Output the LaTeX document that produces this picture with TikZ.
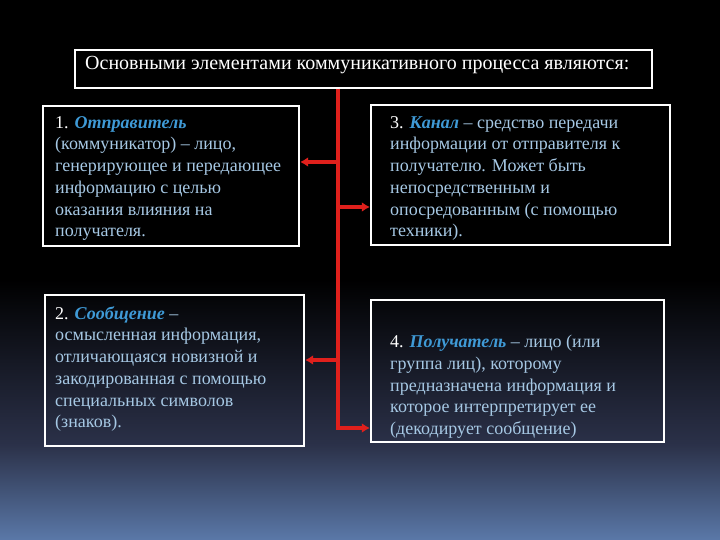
\documentclass[tikz,border=0pt]{standalone}
\usepackage{fontspec}
\setmainfont{Liberation Serif}
\usetikzlibrary{arrows.meta}
\definecolor{bodytxt}{HTML}{A6C8E4}
\definecolor{termtxt}{HTML}{3F9AD6}
\definecolor{arrred}{HTML}{E0201C}
\definecolor{bgA}{HTML}{000000}
\definecolor{bgB}{HTML}{2B3149}
\definecolor{bgC}{HTML}{5A78A8}
\tikzset{
  box/.style={draw=white, line width=2.4pt, fill=none, inner sep=0pt},
  titlebox/.style={draw=white, line width=1.1pt, inner sep=0pt},
  bodytext/.style={anchor=north west, inner sep=0pt, align=left, text=bodytxt,
    font=\fontsize{18}{21.75}\selectfont},
  arr/.style={draw=arrred, line width=3.2pt, -{Latex[length=8pt,width=10pt]}},
  trunk/.style={draw=arrred, line width=3.2pt}
}
\newcommand{\term}[1]{\textcolor{termtxt}{\textbf{\textit{#1}}}}
\newcommand{\num}[1]{\textcolor{white}{#1}}
\begin{document}
\begin{tikzpicture}[x=1pt,y=-1pt]
\useasboundingbox (0,0) rectangle (720,540);
\fill[black] (0,0) rectangle (720,280);
\shade[top color=bgA, bottom color=bgB] (0,279.5) rectangle (720,445);
\shade[top color=bgB, bottom color=bgC] (0,444.5) rectangle (720,540);

% title
\node[titlebox, minimum width=577pt, minimum height=38pt] (title) at (363.5,69) {};
\node[anchor=west, inner sep=0pt, text=white, font=\fontsize{20}{24}\selectfont] (titletxt) at (85,65.5)
  {Основными элементами коммуникативного процесса являются:};

% boxes
\node[box, minimum width=256pt, minimum height=140pt] (b1) at (171,176) {};
\node[box, minimum width=299pt, minimum height=140pt] (b3) at (520.5,175) {};
\node[box, minimum width=259pt, minimum height=151pt] (b2) at (174.5,370.5) {};
\node[box, minimum width=293pt, minimum height=142pt] (b4) at (517.5,371) {};

% texts
\node[bodytext] (t1) at (55,116) {\num{1.} \term{Отправитель}\\(коммуникатор) – лицо,\\генерирующее и передающее\\информацию с целью\\оказания влияния на\\получателя.};
\node[bodytext] (t3) at (390,116) {\num{3.} \term{Канал} – средство передачи\\информации от отправителя к\\получателю. Может быть\\непосредственным и\\опосредованным (с помощью\\техники).};
\node[bodytext] (t2) at (55,306) {\num{2.} \term{Сообщение} –\\осмысленная информация,\\отличающаяся новизной и\\закодированная с помощью\\специальных символов\\(знаков).};
\node[bodytext] (t4) at (390,335) {\num{4.} \term{Получатель} – лицо (или\\группа лиц), которому\\предназначена информация и\\которое интерпретирует ее\\(декодирует сообщение)};

% connectors
\coordinate (top) at (title.south -| 338,0);
\coordinate (j1) at (338,162);
\coordinate (j3) at (338,207);
\coordinate (j2) at (338,360);
\coordinate (j4) at (338,428);
\draw[trunk] (top) -- (338,429.6);
\draw[arr] (j1) -- (j1 -| b1.east);
\draw[arr] (j3) -- (j3 -| b3.west);
\draw[arr] (j2) -- (j2 -| b2.east);
\draw[arr] (336.4,428) -- (j4 -| b4.west);
\end{tikzpicture}
\end{document}
